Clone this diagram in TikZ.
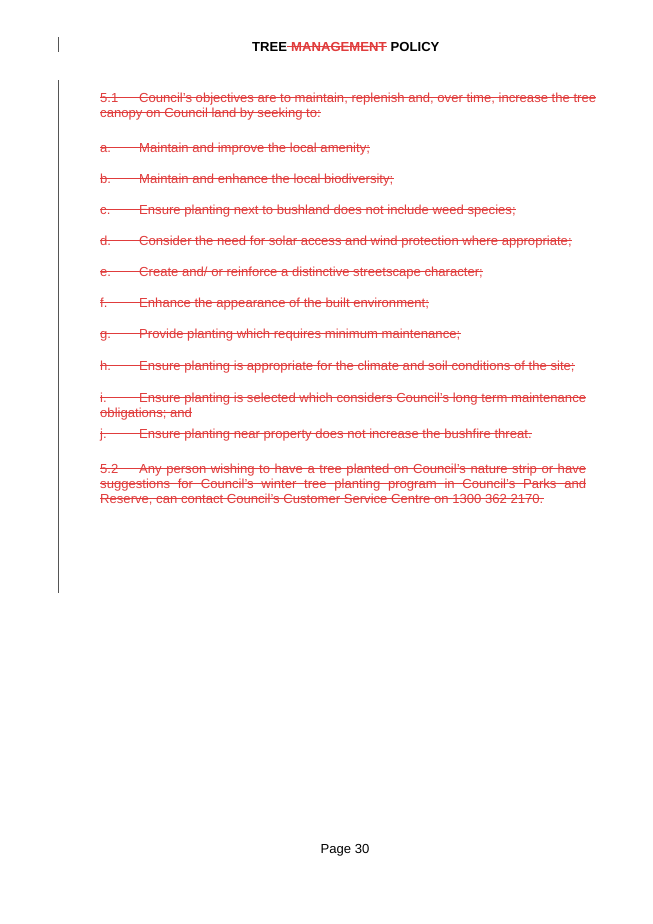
\documentclass[tikz,border=0pt]{standalone}
\usepackage{fontspec}
\setmainfont{Liberation Sans}
\definecolor{del}{HTML}{E03C3C}
\definecolor{bar}{HTML}{555555}
\newcommand{\stk}[4]{\node[txt] (#1) at (#2,#3) {#4};
  \draw[del,line width=0.7pt] ([yshift=4.3pt]#1.base west) -- ([yshift=4.3pt]#1.base east);}
\newcommand{\itm}[4]{\node[txt] (#1l) at (100,#2) {#3};
  \node[txt] (#1) at (139,#2) {#4};
  \draw[del,line width=0.7pt] ([yshift=4.3pt]#1l.base west) -- ([yshift=4.3pt]#1.base east);}
\begin{document}
\begin{tikzpicture}[x=1pt,y=-1pt,
  txt/.style={anchor=base west,inner sep=0pt,text=del,font=\fontsize{13.1}{15}\selectfont},
  hdr/.style={anchor=base west,inner sep=0pt,font=\fontsize{13.1}{15}\selectfont\bfseries}]
\useasboundingbox[fill=white] (0,0) rectangle (653,924);
\draw[bar,line width=1pt] (58,37) -- (58,52);
\draw[bar,line width=1pt] (58,80) -- (58,593);
\node[hdr] (h1) at (252,51) {TREE};
\node[hdr,text=del] (h2) at ([xshift=3.7pt]h1.base east) {MANAGEMENT};
\node[hdr] (h3) at ([xshift=3.7pt]h2.base east) {POLICY};
\draw[del,line width=0.7pt] ([yshift=4.3pt]h1.base east) -- ([yshift=4.3pt]h2.base east);
\stk{p1}{100}{102}{\makebox[39pt][l]{5.1}Council’s objectives are to maintain, replenish and, over time, increase the tree}
\stk{p1b}{100}{117}{canopy on Council land by seeking to:}
\itm{a}{152}{a.}{Maintain and improve the local amenity;}
\itm{b}{183}{b.}{Maintain and enhance the local biodiversity;}
\itm{c}{214}{c.}{Ensure planting next to bushland does not include weed species;}
\itm{d}{245}{d.}{Consider the need for solar access and wind protection where appropriate;}
\itm{e}{276}{e.}{Create and/ or reinforce a distinctive streetscape character;}
\itm{f}{307}{f.}{Enhance the appearance of the built environment;}
\itm{g}{338}{g.}{Provide planting which requires minimum maintenance;}
\itm{h}{370}{h.}{Ensure planting is appropriate for the climate and soil conditions of the site;}
\stk{i}{100}{402}{\makebox[486pt][s]{\makebox[39pt][l]{i.}Ensure planting is selected which considers Council’s long term maintenance}}
\stk{ib}{100}{417}{obligations; and}
\itm{j}{438}{j.}{Ensure planting near property does not increase the bushfire threat.}
\stk{q1}{100}{473}{\makebox[486pt][s]{\makebox[39pt][l]{5.2}Any person wishing to have a tree planted on Council’s nature strip or have}}
\stk{q2}{100}{488}{\makebox[486pt][s]{suggestions for Council’s winter tree planting program in Council’s Parks and}}
\stk{q3}{100}{503}{Reserve, can contact Council’s Customer Service Centre on 1300 362 2170.}
\node[anchor=base,inner sep=0pt,font=\fontsize{13.1}{15}\selectfont] (pg) at (345,853) {Page 30};
\end{tikzpicture}
\end{document}
